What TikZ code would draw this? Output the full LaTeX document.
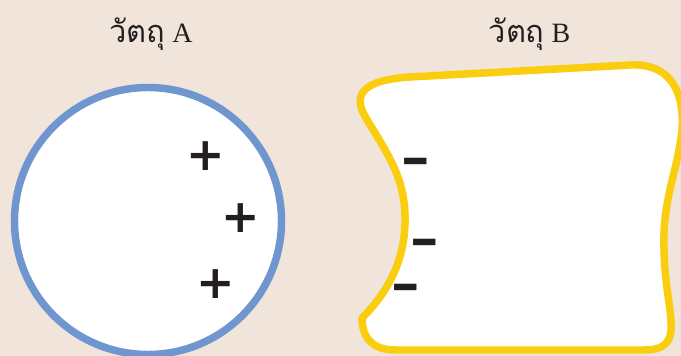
\documentclass[tikz,border=0pt]{standalone}
\usepackage{fontspec}
\setmainfont{Liberation Serif}
\newfontfamily\thaifont[Script=Thai,Scale=1.1]{Loma}
\newfontfamily\signfont{DejaVu Sans Bold}
\definecolor{bgbeige}{HTML}{F0E4DB}
\definecolor{objblue}{HTML}{7096CF}
\definecolor{objyellow}{HTML}{FACD0F}
\definecolor{signblack}{HTML}{231F20}
\tikzset{
  labeltext/.style={anchor=base, inner sep=0pt, text=signblack, font=\fontsize{21pt}{24pt}\selectfont},
  plussign/.style={inner sep=0pt, text=signblack, font=\signfont\fontsize{34.5pt}{36pt}\selectfont},
  minussign/.style={inner sep=0pt, text=signblack, transform shape, xscale=1.5, yscale=1.35, font=\signfont\fontsize{28.5pt}{30pt}\selectfont},
  objA/.style={draw=objblue, fill=white, line width=5.6pt},
  objB/.style={draw=objyellow, fill=white, line width=5.6pt, line join=round},
}
\begin{document}
\begin{tikzpicture}[x=0.75pt, y=-0.75pt]
\useasboundingbox (0,0) rectangle (681,356);
\fill[bgbeige] (0,0) rectangle (681,356);
% object A
\draw[objA] (148,221) circle[radius=133.5];
\node[plussign] (pA1) at (206,156.5) {+};
\node[plussign] (pA2) at (240.5,218) {+};
\node[plussign] (pA3) at (215.5,284.5) {+};
% object B
\draw[objB] (362,318) .. controls (392,288) and (406,255) .. (405,215)
  .. controls (404,175) and (385,150) .. (366,118)
  .. controls (352,95) and (362,80) .. (410,77)
  -- (630,65)
  .. controls (665,63) and (685,85) .. (682,130)
  .. controls (678,170) and (662,200) .. (664,250)
  .. controls (665,290) and (672,310) .. (671,330)
  .. controls (670,345) and (660,350) .. (645,350)
  -- (395,350)
  .. controls (375,350) and (362,340) .. (362,318) -- cycle;
\node[minussign] (mB1) at (415.5,167) {–};
\node[minussign] (mB2) at (424.5,248) {–};
\node[minussign] (mB3) at (405.5,293) {–};
% labels
\node[labeltext] (labA) at (151,43) {{\thaifont วัตถุ} A};
\node[labeltext] (labB) at (529.5,43) {{\thaifont วัตถุ} B};
\end{tikzpicture}
\end{document}
